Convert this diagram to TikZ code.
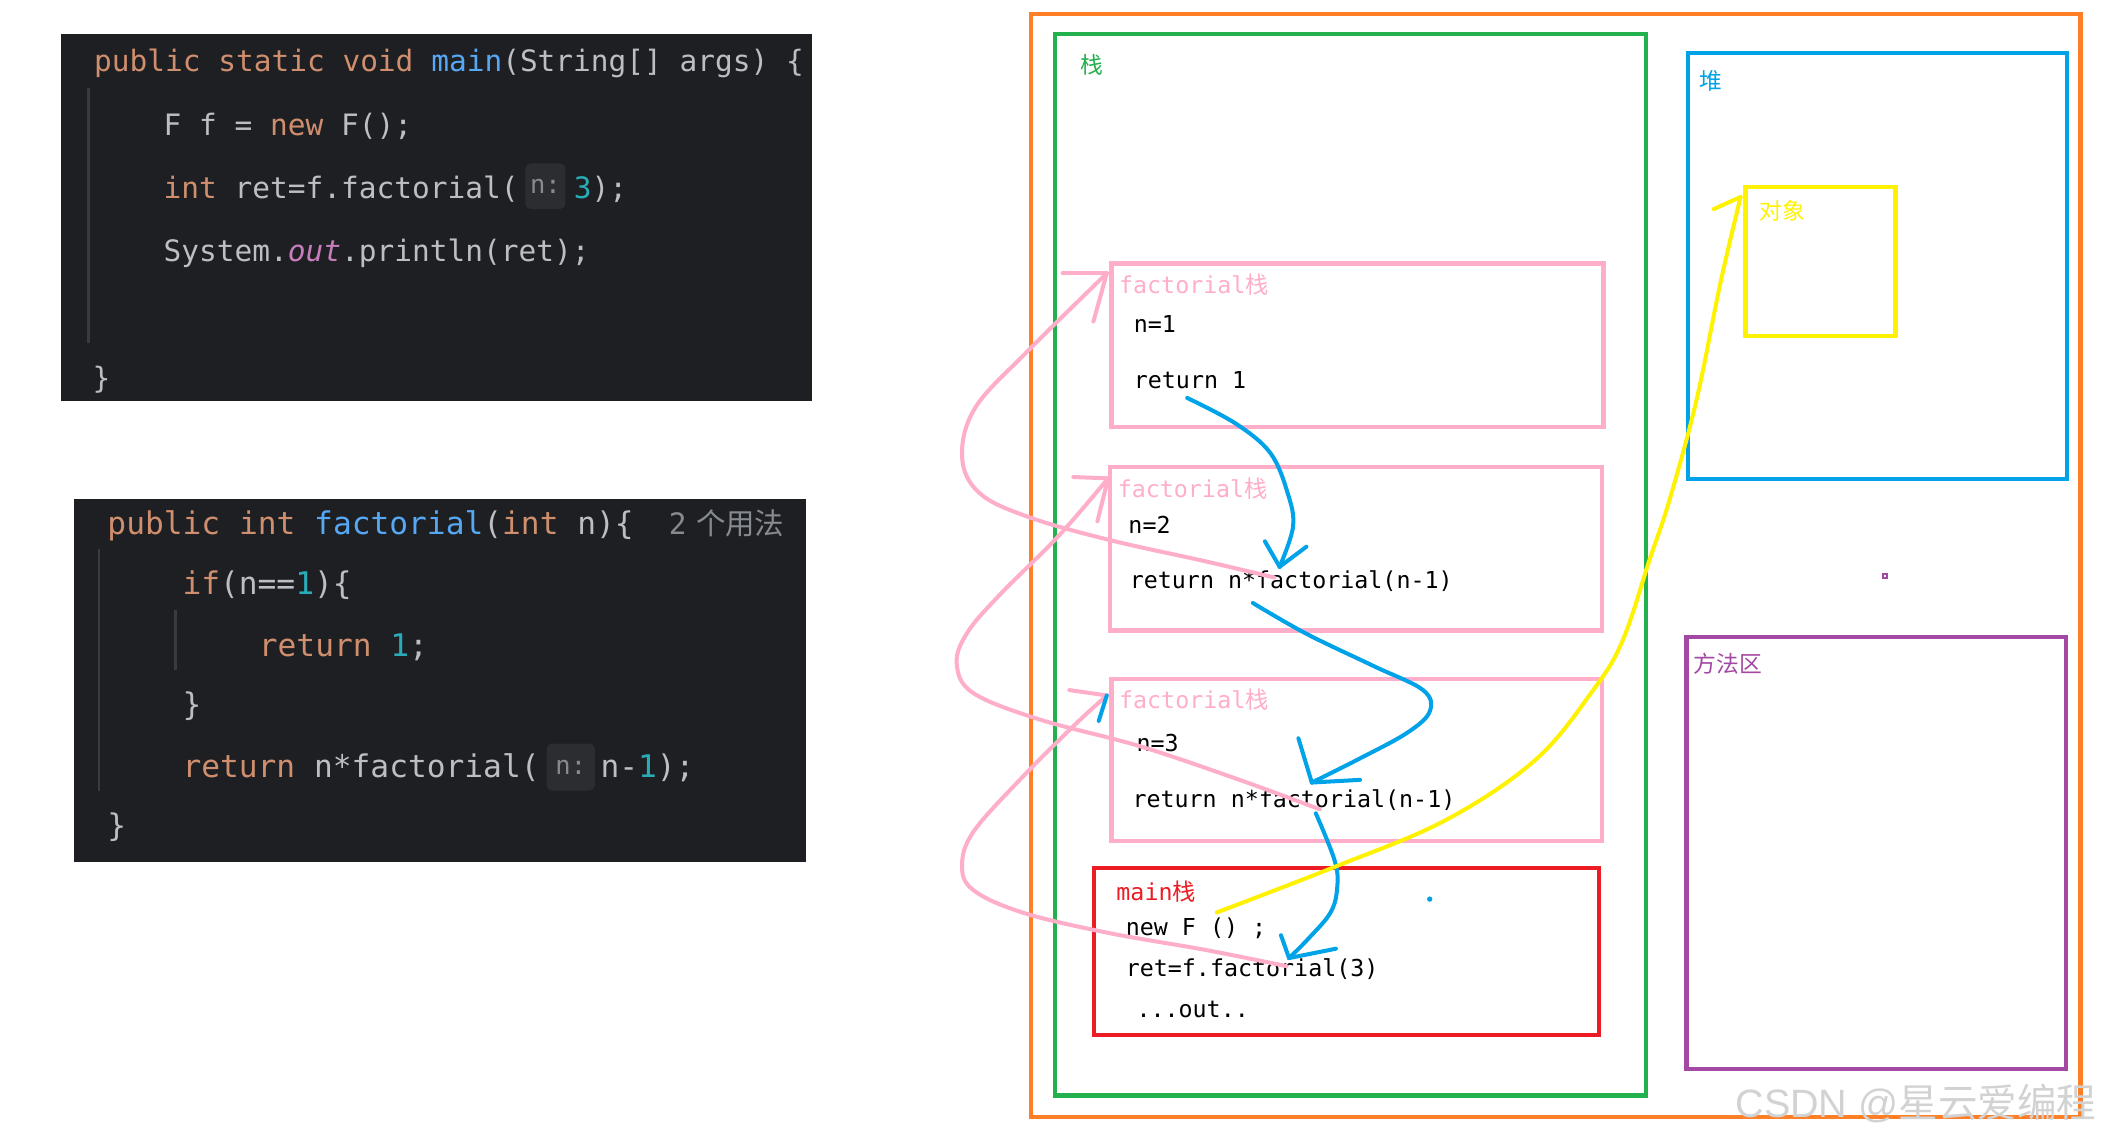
\documentclass[tikz,border=0pt]{standalone}
\usepackage{fontspec}
\setmainfont{DejaVu Sans}
\newfontfamily\cjk{Noto Sans CJK SC}
\newfontfamily\codefont{DejaVu Sans Mono}
\newfontfamily\wmfont{Liberation Sans}
\newcommand\codeAfont{\codefont\fontsize{22}{26}\selectfont}
\newcommand\codeBfont{\codefont\fontsize{23.3}{28}\selectfont}
\newcommand\diagfont{\codefont\fontsize{17.4}{20}\selectfont}
\newcommand\lblfont{\cjk\fontsize{17}{20}\selectfont}
\newcommand\hintfont{\codefont\fontsize{19}{22}\selectfont}
\definecolor{codebg}{HTML}{1E1F22}
\definecolor{kw}{HTML}{CF8E6D}
\definecolor{fn}{HTML}{56A8F5}
\definecolor{tx}{HTML}{BCBEC4}
\definecolor{num}{HTML}{2AACB8}
\definecolor{outc}{HTML}{C77DBB}
\definecolor{hintbg}{HTML}{2B2D30}
\definecolor{hintfg}{HTML}{868A91}
\definecolor{gutter}{HTML}{393B40}
\definecolor{porange}{HTML}{FF7F27}
\definecolor{pgreen}{HTML}{22B14C}
\definecolor{pblue}{HTML}{00A2E8}
\definecolor{pyellow}{HTML}{FFF200}
\definecolor{ppurple}{HTML}{A349A4}
\definecolor{pred}{HTML}{ED1C24}
\definecolor{ppink}{HTML}{FFAEC9}
\begin{document}
\begin{tikzpicture}[x=1pt,y=-1pt,
  box/.style={draw, line width=3.2pt, inner sep=0pt, anchor=north west},
  codeblock/.style={fill=codebg, inner sep=0pt, anchor=north west},
  ctA/.style={anchor=base west, inner sep=0pt, font=\codeAfont, text=tx},
  ctB/.style={anchor=base west, inner sep=0pt, font=\codeBfont, text=tx},
  dt/.style={anchor=base west, inner sep=0pt, font=\diagfont, text=black},
  lbl/.style={anchor=base west, inner sep=0pt, font=\lblfont},
  hint/.style={fill=hintbg, rounded corners=4pt, inner sep=0pt, font=\hintfont, text=hintfg},
  gut/.style={draw=gutter, line width=2pt},
  pinkpen/.style={draw=ppink, line width=3pt, line cap=round, line join=round},
  bluepen/.style={draw=pblue, line width=3pt, line cap=round, line join=round},
  yellowpen/.style={draw=pyellow, line width=3pt, line cap=round, line join=round}]
\useasboundingbox (0,0) rectangle (1568,849);
\fill[white] (0,0) rectangle (1568,849);

% ---------- code block 1 ----------
\node[codeblock, minimum width=561pt, minimum height=274pt] (code1) at (45,25) {};
\draw[gut] (66,66) coordinate (g1a) -- (66,256) coordinate (g1b);
\node[ctA] (c1l1) at (70,53) {{\color{kw}public static void }{\color{fn}main}(String[] args) \{};
\node[ctA] (c1l2) at (122,101) {F f = {\color{kw}new} F();};
\node[ctA] (c1l3) at (122,148) {{\color{kw}int} ret=f.factorial(};
\node[hint, minimum width=30pt, minimum height=34pt] (h1) at (407,139) {n:};
\node[ctA] (c1l3b) at (428,148) {{\color{num}3});};
\node[ctA] (c1l4) at (122,195) {System.{\color{outc}\itshape out}.println(ret);};
\node[ctA] (c1l5) at (69,290) {\}};

% ---------- code block 2 ----------
\node[codeblock, minimum width=546pt, minimum height=271pt] (code2) at (55,372) {};
\draw[gut] (74,410) coordinate (g2a) -- (74,590) coordinate (g2b);
\draw[gut] (131,455) coordinate (g3a) -- (131,500) coordinate (g3b);
\node[ctB] (c2l1) at (80,399) {{\color{kw}public int }{\color{fn}factorial}({\color{kw}int} n)\{};
\node[anchor=base west, inner sep=0pt, text=hintfg] (uses) at (499,399) {{\codefont\fontsize{22}{26}\selectfont 2}\hspace{7pt}{\cjk\fontsize{22}{26}\selectfont 个用法}};
\node[ctB] (c2l2) at (136,444) {{\color{kw}if}(n=={\color{num}1})\{};
\node[ctB] (c2l3) at (193,490) {{\color{kw}return} {\color{num}1};};
\node[ctB] (c2l4) at (136,534) {\}};
\node[ctB] (c2l5) at (136,580) {{\color{kw}return} n*factorial(};
\node[hint, minimum width=36pt, minimum height=35pt] (h2) at (426,572.5) {n:};
\node[ctB] (c2l5b) at (448,580) {n-{\color{num}1});};
\node[ctB] (c2l6) at (80,624) {\}};

% ---------- memory diagram ----------
\node[box, draw=porange, minimum width=783pt, minimum height=823pt] (mem) at (768,9) {};
\node[box, draw=pgreen, minimum width=441pt, minimum height=792pt] (stack) at (786,24) {};
\node[lbl, text=pgreen] (stacklbl) at (806,55) {栈};
\node[box, draw=pblue, minimum width=283pt, minimum height=318pt] (heap) at (1258,38) {};
\node[lbl, text=pblue] (heaplbl) at (1268,67) {堆};
\node[box, draw=pyellow, minimum width=112pt, minimum height=111pt] (obj) at (1301,138) {};
\node[lbl, text=pyellow] (objlbl) at (1313,164) {对象};
\node[box, draw=ppurple, minimum width=283pt, minimum height=322pt] (method) at (1257,474) {};
\node[lbl, text=ppurple] (methodlbl) at (1264,502) {方法区};
\node[draw=ppurple, line width=1.3pt, minimum size=3pt, inner sep=0pt] (dotp) at (1407,430) {};
\node[circle, fill=pblue, minimum size=4pt, inner sep=0pt] (dotb) at (1067,671) {};

% factorial frames
\node[box, draw=ppink, minimum width=367pt, minimum height=122pt] (f1) at (828,195) {};
\node[dt, text=ppink] (f1t) at (835,219) {factorial{\cjk 栈}};
\node[dt] (f1a) at (846,248) {n=1};
\node[dt] (f1b) at (846,290) {return 1};

\node[box, draw=ppink, minimum width=367pt, minimum height=122pt] (f2) at (827,347) {};
\node[dt, text=ppink] (f2t) at (834,371) {factorial{\cjk 栈}};
\node[dt] (f2a) at (842,398) {n=2};
\node[dt] (f2b) at (843,439) {return n*factorial(n-1)};

\node[box, draw=ppink, minimum width=366pt, minimum height=121pt] (f3) at (828,505) {};
\node[dt, text=ppink] (f3t) at (835,529) {factorial{\cjk 栈}};
\node[dt] (f3a) at (848,561) {n=3};
\node[dt] (f3b) at (845,603) {return n*factorial(n-1)};

\node[box, draw=pred, minimum width=377pt, minimum height=125pt] (mainf) at (815,646) {};
\node[dt, text=pred] (mt) at (833,672) {main{\cjk 栈}};
\node[dt] (ma) at (840,698) {new F () ;};
\node[dt] (mb) at (840,729) {ret=f.factorial(3)};
\node[dt] (mc) at (848,759) {...out..};

% ---------- hand-drawn connectors ----------
\coordinate (tipA) at (826,204);
\coordinate (tipB) at (827,357);
\coordinate (tipC) at (826,519);
\coordinate (tipY) at (1299,147);
% pink: calls
\draw[pinkpen] plot[smooth, tension=0.6] coordinates {(951,431) (900,419) (828,403) (768,386) (731,368) (718,341) (728,304) (768,261) (826,204)};
\draw[pinkpen] (tipA) -- (793,204);
\draw[pinkpen] (tipA) -- (816,240);

\draw[pinkpen] plot[smooth, tension=0.6] coordinates {(985,604) (925,582) (851,557) (776,537) (726,517) (714,495) (722,472) (746,444) (790,400) (827,357)};
\draw[pinkpen] (tipB) -- (801,356);
\draw[pinkpen] (tipB) -- (819,389);

\draw[pinkpen] plot[smooth, tension=0.6] coordinates {(960,721) (900,709) (826,696) (763,681) (726,664) (718,645) (727,620) (763,580) (801,542) (826,519)};
\draw[pinkpen] (tipC) -- (798,515);
\draw[bluepen] (tipC) -- (820,538);

% blue: returns
\draw[bluepen] plot[smooth, tension=0.6] coordinates {(886,297) (922,316) (948,338) (961,368) (965,393) (955,423)};
\draw[bluepen] (955,423) coordinate (tb1) -- (944,404);
\draw[bluepen] (tb1) -- (975,408);

\draw[bluepen] plot[smooth, tension=0.6] coordinates {(935,450) (975,473) (1025,497) (1062,515) (1067,531) (1050,547) (1013,567) (979,584)};
\draw[bluepen] (979,584) coordinate (tb2) -- (969,551);
\draw[bluepen] (tb2) -- (1015,582);

\draw[bluepen] plot[smooth, tension=0.6] coordinates {(982,607) (996,642) (998,662) (993,681) (976,701) (962,715)};
\draw[bluepen] (962,715) coordinate (tb3) -- (956,698);
\draw[bluepen] (tb3) -- (997,708);

% yellow: reference to object
\draw[yellowpen] plot[smooth, tension=0.6] coordinates {(908,681) (996,647) (1079,612) (1146,567) (1189,515) (1211,478) (1231,418) (1246,373) (1266,299) (1284,211) (1299,147)};
\draw[yellowpen] (tipY) -- (1279,156);

% watermark
\node[anchor=base west, inner sep=0pt, text=gray!35] (wm) at (1295,834) {{\wmfont\fontsize{29.5}{31}\selectfont CSDN @}{\cjk\fontsize{29.5}{31}\selectfont 星云爱编程}};
\end{tikzpicture}
\end{document}
